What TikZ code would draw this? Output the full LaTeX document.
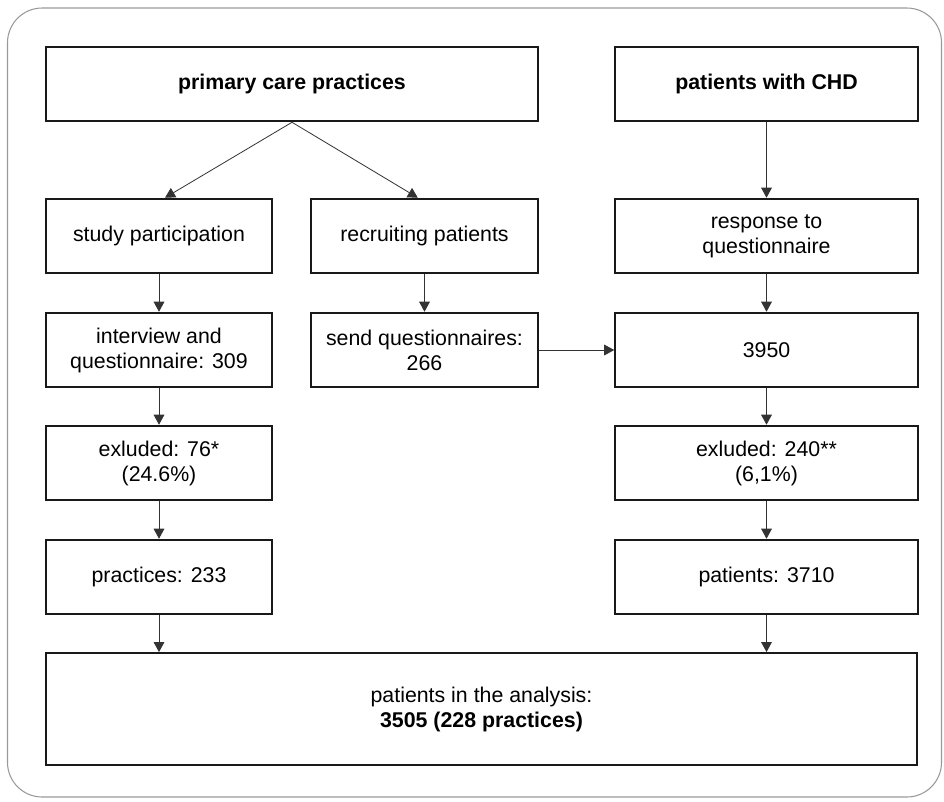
\documentclass[tikz,border=0pt]{standalone}
\usepackage{fontspec}
\setmainfont{Liberation Sans}
\usetikzlibrary{calc, arrows.meta}

\tikzset{
	stage/.style={draw=black!90, line width=1.4pt, align=center, minimum height=56pt, text=black,
		font=\fontsize{16pt}{18.75pt}\selectfont, inner sep=2pt},
	link/.style={draw=black!80, line width=0.6pt, -{Triangle[length=7.5pt,width=8pt]}}
}

\begin{document}
\begin{tikzpicture}[x=0.75pt, y=-0.75pt]
	\useasboundingbox (0,0) rectangle (944,801);
	\draw[black!40, line width=0.8pt, rounded corners=26pt] (7.5,8) rectangle (941.5,797);

	\node[stage, minimum width=369pt] (prim) at (292,84) {\textbf{primary care practices}};
	\node[stage, minimum width=227pt] (chd) at (766.5,84) {\textbf{patients with CHD}};

	\node[stage, minimum width=170pt] (study) at (159,236) {study participation};
	\node[stage, minimum width=170pt] (recr) at (424.5,236) {recruiting patients};
	\node[stage, minimum width=227pt] (resp) at (766.5,236) {response to\\questionnaire};

	\node[stage, minimum width=170pt] (interv) at (159,350) {interview and\\questionnaire: 309};
	\node[stage, minimum width=170pt] (send) at (424.5,350) {send questionnaires:\\266};
	\node[stage, minimum width=227pt] (resp3950) at (766.5,350) {3950};

	\node[stage, minimum width=170pt] (exclL) at (159,463) {exluded: 76*\\(24.6\%)};
	\node[stage, minimum width=227pt] (exclR) at (766.5,463) {exluded: 240**\\(6,1\%)};

	\node[stage, minimum width=170pt] (pract) at (159,577) {practices: 233};
	\node[stage, minimum width=227pt] (pat) at (766.5,577) {patients: 3710};

	\node[stage, minimum width=653pt, minimum height=84pt] (anal) at (481.5,709) {patients in the analysis:\\\textbf{3505 (228 practices)}};

	\draw[link] (prim.south) -- ([xshift=4.5pt]study.north);
	\draw[link] (prim.south) -- ([xshift=-5pt]recr.north);
	\draw[link] (chd) -- (resp);

	\draw[link] (study) -- (interv);
	\draw[link] (recr) -- (send);
	\draw[link] (resp) -- (resp3950);
	\draw[link] (send) -- (resp3950);

	\draw[link] (interv) -- (exclL);
	\draw[link] (resp3950) -- (exclR);
	\draw[link] (exclL) -- (pract);
	\draw[link] (exclR) -- (pat);

	\draw[link] (pract.south) -- (pract.south |- anal.north);
	\draw[link] (pat.south) -- (pat.south |- anal.north);
\end{tikzpicture}
\end{document}
